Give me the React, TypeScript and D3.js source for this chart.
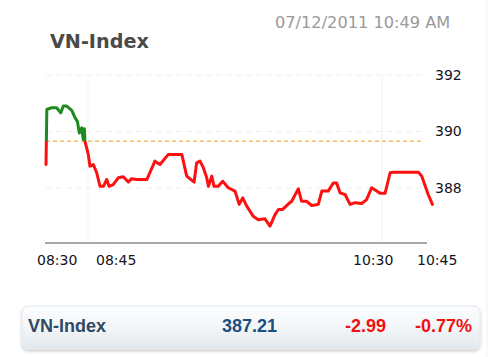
import React from "react";
import * as d3 from "d3";

const times = [
  "08:30:00","08:30:18","08:32:00","08:33:48","08:35:15","08:36:12","08:37:24","08:39:12","08:40:24","08:41:12",
  "08:41:54","08:42:45","08:43:18","08:43:42","08:43:54","08:45:06","08:45:42","08:46:54","08:48:06","08:49:18",
  "08:50:30","08:51:42","08:52:30","08:54:00","08:55:48","08:57:36","08:59:24","09:00:36","09:02:24","09:06:00",
  "09:08:54","09:10:42","09:13:42","09:18:30","09:20:15","09:22:54","09:23:48","09:25:00","09:26:12","09:27:24",
  "09:28:00","09:29:12","09:30:00","09:31:30","09:33:06","09:35:06","09:37:30","09:39:00","09:40:15","09:41:42",
  "09:44:00","09:45:48","09:48:12","09:50:00","09:51:48","09:53:00","09:54:30","09:57:06","09:57:45","10:00:06",
  "10:01:18","10:03:06","10:04:54","10:07:15","10:08:30","10:10:48","10:12:36","10:13:48","10:15:00","10:16:48",
  "10:18:36","10:20:24","10:22:45","10:24:30","10:26:18","10:28:06","10:29:18","10:31:06","10:32:54","10:34:00",
  "10:43:00","10:44:12","10:46:30","10:48:00",
];
const values = [
  388.83,390.78,390.84,390.84,390.66,390.90,390.90,390.75,390.48,390.36,
  389.95,390.13,389.72,390.10,389.66,389.19,388.77,388.83,388.54,388.06,
  388.06,388.30,388.06,388.12,388.36,388.40,388.21,388.33,388.30,388.30,
  388.95,388.83,389.19,389.19,388.42,388.21,388.89,388.95,388.72,388.36,
  388.06,388.42,388.06,388.06,388.24,388.01,387.89,387.42,387.65,387.36,
  387.00,386.88,386.91,386.65,387.06,387.24,387.24,387.48,387.53,387.97,
  387.53,387.53,387.38,387.42,387.89,387.89,388.18,388.18,387.83,387.77,
  387.42,387.48,387.45,387.59,388.01,387.89,387.81,387.81,388.54,388.56,
  388.56,388.42,387.77,387.42,
];
const refValue = 389.66;
const yTicks = [388, 390, 392];
const xTickLabels = ["08:30", "08:45", "10:30", "10:45"];
const xGridLabels = ["08:45", "10:30"];
const title = "VN-Index";
const stamp = "07/12/2011 10:49 AM";
const summary = { name: "VN-Index", last: "387.21", change: "-2.99", pct: "-0.77%" };

// layout offsets for x tick labels (label start relative to tick)
const xLabelDx = [-9, 8, -29, -7];

const parse = d3.timeParse("%H:%M:%S");
const parseHM = d3.timeParse("%H:%M");

export default function App() {
  const x = d3.scaleTime().domain([parseHM("08:30")!, parseHM("10:45")!]).range([46, 424]);
  const y = d3.scaleLinear().domain([388, 392]).range([188, 75]);
  const data = times.map((t, i) => ({ t: parse(t)!, v: values[i] }));
  const line = d3.line<{ t: Date; v: number }>().x(d => x(d.t)).y(d => y(d.v));
  const path = line(data) || "";
  const yRef = y(refValue);
  const [x0, x1] = x.range();

  return (
    <svg width={500} height={357} style={{ position: "absolute", left: 0, top: 0, background: "#fff" }}>
      <defs>
        <clipPath id="above"><rect x={0} y={0} width={500} height={yRef} /></clipPath>
        <clipPath id="below"><rect x={0} y={yRef} width={500} height={357 - yRef} /></clipPath>
        <linearGradient id="barGrad" x1="0" y1="0" x2="0" y2="1">
          <stop offset="0" stopColor="#fbfcfd" />
          <stop offset="0.5" stopColor="#f3f6f8" />
          <stop offset="1" stopColor="#e1e7ec" />
        </linearGradient>
        <filter id="shadow" x="-5%" y="-20%" width="110%" height="150%">
          <feGaussianBlur in="SourceAlpha" stdDeviation="1.5" />
          <feOffset dy="1.5" />
          <feComponentTransfer><feFuncA type="linear" slope="0.2" /></feComponentTransfer>
          <feMerge><feMergeNode /><feMergeNode in="SourceGraphic" /></feMerge>
        </filter>
      </defs>

      <line x1={487} x2={487} y1={0} y2={357} stroke="#f2f2f2" strokeWidth={1} />

      <text x={50} y={48} fontFamily="DejaVu Sans, Verdana, sans-serif" fontWeight="bold" fontSize={19.2} fill="#4a4a4a">{title}</text>
      <text x={275} y={28} fontFamily="DejaVu Sans, Verdana, sans-serif" fontSize={16.2} fill="#9a9a9a">{stamp}</text>

      {yTicks.map(v => (
        <line key={"g" + v} x1={x0} x2={x1} y1={y(v)} y2={y(v)} stroke="#efefef" strokeWidth={1} strokeDasharray="6 4" />
      ))}
      {xGridLabels.map(l => (
        <line key={"v" + l} x1={x(parseHM(l)!)} x2={x(parseHM(l)!)} y1={y(392)} y2={243} stroke="#f3f3f3" strokeWidth={1} />
      ))}

      <line x1={x0} x2={x1} y1={yRef} y2={yRef} stroke="#f5b342" strokeWidth={1.2} strokeDasharray="4 3" />

      <path d={path} fill="none" stroke="#1e8a1e" strokeWidth={3} strokeLinejoin="round" strokeLinecap="round" clipPath="url(#above)" />
      <path d={path} fill="none" stroke="#ff1010" strokeWidth={3} strokeLinejoin="round" strokeLinecap="round" clipPath="url(#below)" />

      <line x1={x0 - 1} x2={x1 + 3} y1={243} y2={243} stroke="#a8a8a8" strokeWidth={2} />

      {yTicks.map(v => (
        <text key={"t" + v} x={435} y={y(v) + 4.5} fontFamily="DejaVu Sans, Verdana, sans-serif" fontSize={14} fill="#141420">{v}</text>
      ))}
      {xTickLabels.map((l, i) => (
        <text key={"x" + l} x={x(parseHM(l)!) + xLabelDx[i]} y={265} fontFamily="DejaVu Sans, Verdana, sans-serif" fontSize={14} fill="#141420">{l}</text>
      ))}

      <rect x={22} y={306} width={458} height={43} rx={6} fill="url(#barGrad)" stroke="#e2e7ec" strokeWidth={1} filter="url(#shadow)" />
      <text x={28} y={331.5} fontFamily="Liberation Sans, Arial, sans-serif" fontWeight="bold" fontSize={18} fill="#2f4a62">{summary.name}</text>
      <text x={277} y={331.5} textAnchor="end" fontFamily="Liberation Sans, Arial, sans-serif" fontWeight="bold" fontSize={18} fill="#1b4f7e">{summary.last}</text>
      <text x={386} y={331.5} textAnchor="end" fontFamily="Liberation Sans, Arial, sans-serif" fontWeight="bold" fontSize={18} fill="#ee1111">{summary.change}</text>
      <text x={472} y={331.5} textAnchor="end" fontFamily="Liberation Sans, Arial, sans-serif" fontWeight="bold" fontSize={18} fill="#ee1111">{summary.pct}</text>
    </svg>
  );
}
